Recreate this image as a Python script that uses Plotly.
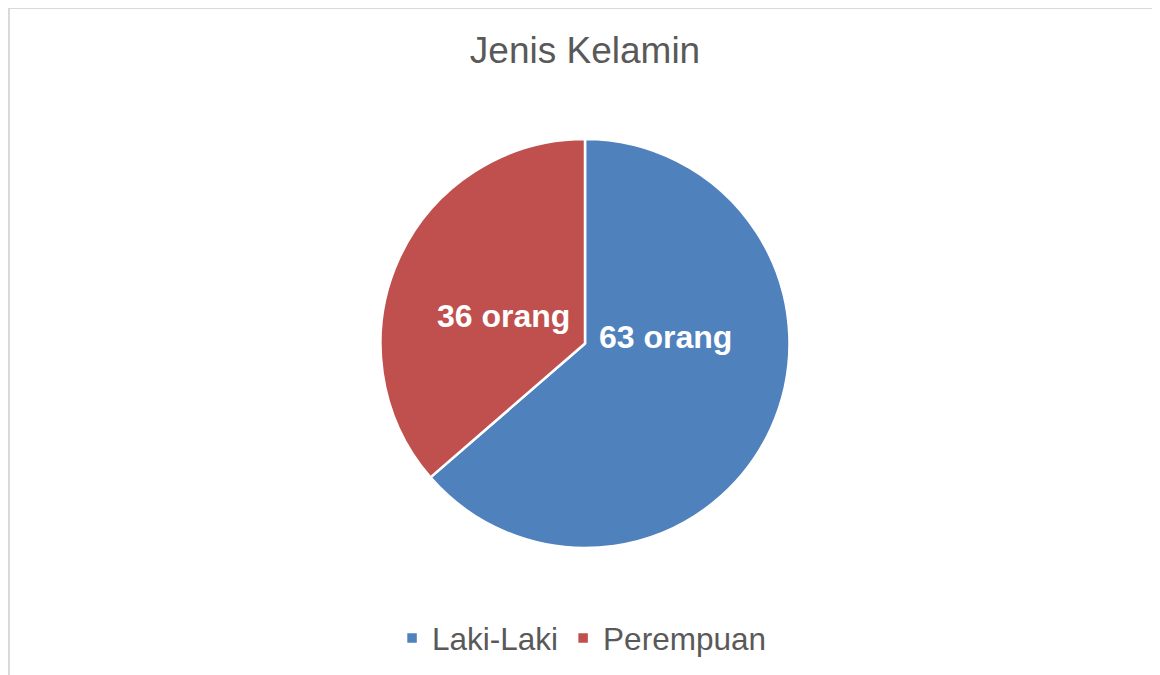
import plotly.graph_objects as go

# data
labels = ['Laki-Laki', 'Perempuan']
values = [63, 36]
colors = ['#4F81BD', '#C0504D']
label_pos = [(0.5696, 0.516), (0.4291, 0.567)]  # where the value labels sit (paper coords)

fig = go.Figure()

fig.add_trace(go.Pie(
    labels=labels,
    values=values,
    sort=False,
    direction='clockwise',
    rotation=0,
    textinfo='none',
    hoverinfo='label+value',
    marker=dict(colors=colors, line=dict(color='white', width=2.5)),
))

# value labels, placed like the original
for v, (px_, py_) in zip(values, label_pos):
    fig.add_annotation(
        x=px_, y=py_, xref='paper', yref='paper',
        text=f'<b>{v} orang</b>', showarrow=False,
        font=dict(family='Liberation Sans, Arial', size=32, color='white'),
    )

# light grey frame round the chart area
fig.add_shape(
    type='rect', xref='paper', yref='paper',
    x0=-0.0009, x1=0.9991, y0=-0.4, y1=1.3203,
    line=dict(color='#D9D9D9', width=2), layer='below',
)

fig.update_layout(
    width=1152, height=667,
    margin=dict(l=2, r=0, t=131, b=127),
    paper_bgcolor='white',
    plot_bgcolor='white',
    font=dict(family='Liberation Sans, Arial', color='#595959'),
    title=dict(text='Jenis Kelamin', x=0.5009, xanchor='center',
               y=0.937, yanchor='middle', font=dict(size=37, color='#595959')),
    legend=dict(orientation='h', x=0.497, xanchor='center',
                y=-0.22, yanchor='middle', font=dict(size=31.5, color='#595959'),
                itemwidth=30),
    showlegend=True,
)

fig.write_html('out.html')
